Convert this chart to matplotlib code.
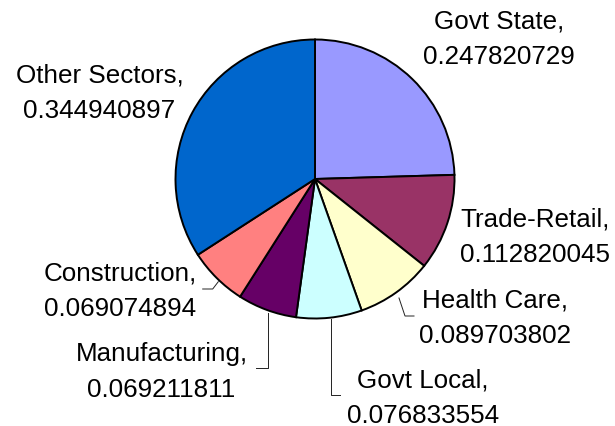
import matplotlib
matplotlib.use("Agg")
import matplotlib.pyplot as plt

# data
sectors = ["Govt State", "Trade-Retail", "Health Care", "Govt Local",
           "Manufacturing", "Construction", "Other Sectors"]
shares = [0.247820729, 0.112820045, 0.089703802, 0.076833554,
          0.069211811, 0.069074894, 0.344940897]
colors = ["#9999FF", "#993366", "#FFFFCC", "#CCFFFF",
          "#660066", "#FF8080", "#0066CC"]

# label block centres, in pixels (layout only)
label_pos = {
    "Govt State": (499, 39),
    "Trade-Retail": (535, 237.5),
    "Health Care": (494.5, 318),
    "Govt Local": (423, 398),
    "Manufacturing": (161.5, 372),
    "Construction": (120.5, 291.5),
    "Other Sectors": (99.5, 93.5),
}
# leader lines for the labels that sit away from their slice
leaders = {
    "Health Care": [(399, 299), (405, 317), (414, 317)],
    "Govt Local": [(331, 320), (331, 396), (340, 396)],
    "Manufacturing": [(268.3, 314), (268.3, 369.3), (256, 369.3)],
    "Construction": [(218.3, 282.7), (212.7, 290), (202.7, 290)],
}

plt.rcParams['font.family'] = ['Liberation Sans', 'DejaVu Sans']

fig = plt.figure(figsize=(6.15, 4.27), dpi=100)
ax = fig.add_axes([0, 0, 1, 1])

# y axis is inverted below, so counterclock in data reads clockwise on screen
ax.pie(shares, colors=colors, startangle=-90, counterclock=True,
       center=(315, 180), radius=139.5, frame=True,
       wedgeprops=dict(edgecolor='black', linewidth=1.4))
ax.set_xlim(0, 615)
ax.set_ylim(427, 0)  # pixel coords, y down
ax.axis('off')

for name, val in zip(sectors, shares):
    x, y = label_pos[name]
    ax.text(x, y, f"{name},\n{val}", ha='center', va='center',
            multialignment='center', fontsize=18.7, linespacing=1.6)

for name, pts in leaders.items():
    xs = [p[0] for p in pts]
    ys = [p[1] for p in pts]
    ax.plot(xs, ys, color='#222222', linewidth=0.7)

fig.savefig("out.png", dpi=100)
